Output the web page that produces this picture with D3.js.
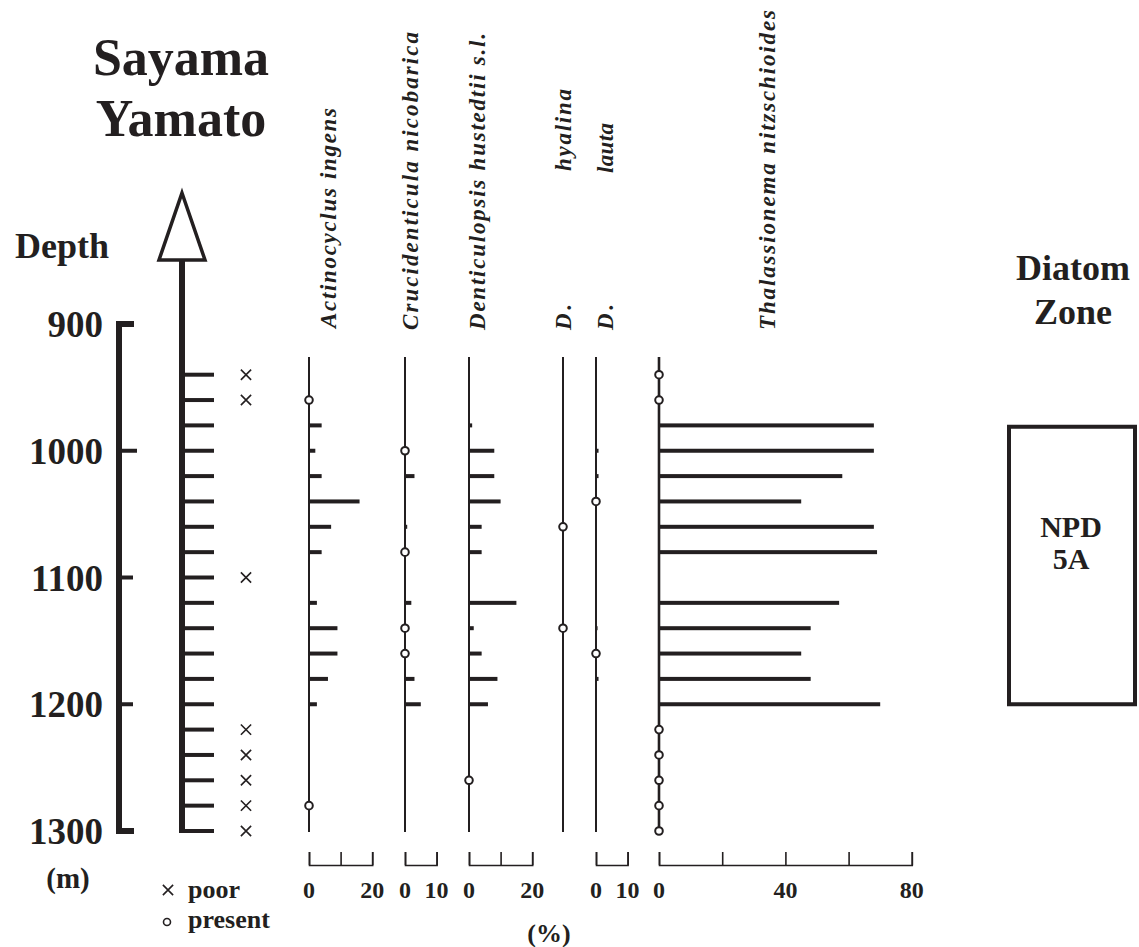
<!DOCTYPE html>
<html>
<head>
<meta charset="utf-8">
<script src="https://cdn.jsdelivr.net/npm/d3@7"></script>
<style>
  html, body { margin: 0; padding: 0; background: #fff; }
  svg { display: block; }
  text { font-family: "Liberation Serif", "Times New Roman", serif; fill: #231f20; }
</style>
</head>
<body>
<svg id="chart" width="1139" height="947"></svg>
<script>
// ---------------- DATA ----------------
const depthTicks = [900, 1000, 1100, 1200, 1300];
const depths = [940, 960, 980, 1000, 1020, 1040, 1060, 1080, 1100, 1120, 1140, 1160, 1180, 1200, 1220, 1240, 1260, 1280, 1300];
const poorSamples = [940, 960, 1100, 1220, 1240, 1260, 1280, 1300];

// percentages per depth (0 = no bar)
const actinocyclus   = [0, 0, 4, 2, 4, 16, 7, 4, 0, 2.5, 9, 9, 6, 2.5, 0, 0, 0, 0, 0];
const crucidenticula = [0, 0, 0, 0, 3, 0, 0.7, 0, 0, 2, 0, 0, 3, 5, 0, 0, 0, 0, 0];
const denticulopsis  = [0, 0, 1, 8, 8, 10, 4, 4, 0, 15, 1.5, 4, 9, 6, 0, 0, 0, 0, 0];
const hyalina        = [0, 0, 0, 0, 0, 0, 0, 0, 0, 0, 0, 0, 0, 0, 0, 0, 0, 0, 0];
const lauta          = [0, 0, 0, 0.8, 0.8, 0, 0, 0, 0, 0, 0.5, 0, 0.8, 0, 0, 0, 0, 0, 0];
const thalassionema  = [0, 0, 68, 68, 58, 45, 68, 69, 0, 57, 48, 45, 48, 70, 0, 0, 0, 0, 0];

// depths where species is only "present"
const actinocyclusPresent   = [960, 1280];
const crucidenticulaPresent = [1000, 1080, 1140, 1160];
const denticulopsisPresent  = [1260];
const hyalinaPresent        = [1060, 1140];
const lautaPresent          = [1040, 1160];
const thalassionemaPresent  = [940, 960, 1220, 1240, 1260, 1280, 1300];

// axis ticks and labels
const actinocyclusTicks = [0, 10, 20],  actinocyclusLabels = [0, 20];
const crucidenticulaTicks = [0, 10],    crucidenticulaLabels = [0, 10];
const denticulopsisTicks = [0, 10, 20], denticulopsisLabels = [0, 20];
const lautaTicks = [0, 10],             lautaLabels = [0, 10];
const thalassionemaTicks = [0, 20, 40, 60, 80], thalassionemaLabels = [0, 40, 80];

// ---------------- LAYOUT ----------------
const INK = "#231f20";
const PX_PER_PCT = 3.16;
const svg = d3.select("#chart");

const y = d3.scaleLinear().domain([900, 1300]).range([324, 831]);

const panels = [
  { values: actinocyclus,   present: actinocyclusPresent,   x0: 309, max: 20, ticks: actinocyclusTicks,   labels: actinocyclusLabels,
    titles: [{ t: "Actinocyclus ingens", bx: 336, start: 328, len: 220 }] },
  { values: crucidenticula, present: crucidenticulaPresent, x0: 405, max: 10, ticks: crucidenticulaTicks, labels: crucidenticulaLabels,
    titles: [{ t: "Crucidenticula nicobarica", bx: 418, start: 330, len: 298 }] },
  { values: denticulopsis,  present: denticulopsisPresent,  x0: 469, max: 20, ticks: denticulopsisTicks,  labels: denticulopsisLabels,
    titles: [{ t: "Denticulopsis hustedtii s.l.", bx: 485, start: 330, len: 297 }] },
  { values: hyalina,        present: hyalinaPresent,        x0: 563, max: 10, ticks: null, labels: null,
    titles: [{ t: "D.", bx: 571, start: 330, len: 26 }, { t: "hyalina", bx: 571, start: 171, len: 82 }] },
  { values: lauta,          present: lautaPresent,          x0: 596, max: 10, ticks: lautaTicks,          labels: lautaLabels,
    titles: [{ t: "D.", bx: 613, start: 330, len: 26 }, { t: "lauta", bx: 613, start: 173, len: 50 }] },
  { values: thalassionema,  present: thalassionemaPresent,  x0: 659, max: 80, ticks: thalassionemaTicks, labels: thalassionemaLabels,
    titles: [{ t: "Thalassionema nitzschioides", bx: 775, start: 330, len: 320 }] }
];

// ---------------- TITLES ----------------
svg.append("text").attr("x", 181).attr("y", 75).attr("text-anchor", "middle")
  .attr("font-size", 52).attr("font-weight", "bold").text("Sayama");
svg.append("text").attr("x", 181).attr("y", 136).attr("text-anchor", "middle")
  .attr("font-size", 52).attr("font-weight", "bold").text("Yamato");
svg.append("text").attr("x", 62).attr("y", 258).attr("text-anchor", "middle")
  .attr("font-size", 36).attr("font-weight", "bold").text("Depth");

// ---------------- DEPTH BRACKET ----------------
svg.append("path")
  .attr("d", `M134,${y(900)} H119 V${y(1300)} H134`)
  .attr("fill", "none").attr("stroke", INK).attr("stroke-width", 6);
svg.selectAll(".dtick").data(depthTicks.filter(d => d > 900 && d < 1300)).enter().append("line")
  .attr("x1", 119).attr("x2", (d, i) => i === 0 ? 137 : 133)
  .attr("y1", d => y(d)).attr("y2", d => y(d))
  .attr("stroke", INK).attr("stroke-width", 4);
svg.selectAll(".dlabel").data(depthTicks).enter().append("text")
  .attr("x", 103).attr("y", d => y(d) + 13).attr("text-anchor", "end")
  .attr("font-size", 37).attr("font-weight", "bold").text(d => d);
svg.append("text").attr("x", 68).attr("y", 888).attr("text-anchor", "middle")
  .attr("font-size", 29).attr("font-weight", "bold").text("(m)");

// ---------------- ARROW ----------------
const ax = 182;
svg.append("line").attr("x1", ax).attr("x2", ax).attr("y1", 260).attr("y2", y(1300) + 2)
  .attr("stroke", INK).attr("stroke-width", 6);
svg.append("path").attr("d", `M${ax},193 L${ax + 23},260 L${ax - 23},260 Z`)
  .attr("fill", "#fff").attr("stroke", INK).attr("stroke-width", 3.5).attr("stroke-linejoin", "miter");
svg.selectAll(".stick").data(depths).enter().append("line")
  .attr("x1", ax).attr("x2", 214).attr("y1", d => y(d)).attr("y2", d => y(d))
  .attr("stroke", INK).attr("stroke-width", 4);

// poor crosses
const crossSym = d3.symbol().type(d3.symbolTimes).size(70);
svg.selectAll(".poor").data(poorSamples).enter().append("path")
  .attr("d", crossSym).attr("transform", d => `translate(246,${y(d)})`)
  .attr("fill", "none").attr("stroke", INK).attr("stroke-width", 1.6);

// legend
svg.append("path").attr("d", crossSym).attr("transform", "translate(168,890)")
  .attr("fill", "none").attr("stroke", INK).attr("stroke-width", 1.6);
svg.append("text").attr("x", 188).attr("y", 898).attr("font-size", 26).attr("font-weight", "bold").text("poor");
svg.append("circle").attr("cx", 167).attr("cy", 922).attr("r", 3.5)
  .attr("fill", "#fff").attr("stroke", INK).attr("stroke-width", 1.6);
svg.append("text").attr("x", 188).attr("y", 928).attr("font-size", 26).attr("font-weight", "bold").text("present");

// ---------------- PANELS ----------------
panels.forEach(p => {
  const x = d3.scaleLinear().domain([0, p.max]).range([p.x0, p.x0 + p.max * PX_PER_PCT]);
  const g = svg.append("g");

  // baseline
  g.append("line").attr("x1", x(0)).attr("x2", x(0)).attr("y1", 357).attr("y2", y(1300) + 1)
    .attr("stroke", INK).attr("stroke-width", p.max === 80 ? 2.6 : 2);

  // bars
  const rows = depths.map((d, i) => ({ d, v: p.values[i] })).filter(r => r.v > 0);
  g.selectAll(".bar").data(rows).enter().append("rect")
    .attr("x", x(0)).attr("y", r => y(r.d) - 2)
    .attr("width", r => x(r.v) - x(0)).attr("height", 4)
    .attr("fill", INK);

  // present circles
  g.selectAll(".pres").data(p.present).enter().append("circle")
    .attr("cx", x(0)).attr("cy", d => y(d)).attr("r", 3.8)
    .attr("fill", "#fff").attr("stroke", INK).attr("stroke-width", 2);

  // bottom axis
  if (p.ticks) {
    const axis = d3.axisTop(x).tickValues(p.ticks).tickSize(13).tickSizeOuter(13).tickFormat("");
    const ag = g.append("g").attr("transform", "translate(0,865)").call(axis);
    ag.selectAll("path, line").attr("stroke", INK).attr("stroke-width", 1.6);
    g.selectAll(".alab").data(p.labels).enter().append("text")
      .attr("x", d => x(d)).attr("y", 898).attr("text-anchor", "middle")
      .attr("font-size", 24).attr("font-weight", "bold").text(d => d);
  }

  // titles (rotated)
  p.titles.forEach(tt => {
    g.append("text")
      .attr("transform", `translate(${tt.bx},${tt.start}) rotate(-90)`)
      .attr("font-size", 23).attr("font-weight", "bold").attr("font-style", "italic")
      .attr("textLength", tt.len).attr("lengthAdjust", "spacing")
      .text(tt.t);
  });
});

svg.append("text").attr("x", 549).attr("y", 942).attr("text-anchor", "middle")
  .attr("font-size", 26).attr("font-weight", "bold").text("(%)");

// ---------------- DIATOM ZONE ----------------
svg.append("text").attr("x", 1073).attr("y", 280).attr("text-anchor", "middle")
  .attr("font-size", 36).attr("font-weight", "bold").text("Diatom");
svg.append("text").attr("x", 1073).attr("y", 324).attr("text-anchor", "middle")
  .attr("font-size", 36).attr("font-weight", "bold").text("Zone");
svg.append("rect").attr("x", 1009).attr("y", y(1000) - 24).attr("width", 126).attr("height", y(1200) - y(1000) + 24)
  .attr("fill", "none").attr("stroke", INK).attr("stroke-width", 4);
svg.append("text").attr("x", 1071).attr("y", 537).attr("text-anchor", "middle")
  .attr("font-size", 30).attr("font-weight", "bold").text("NPD");
svg.append("text").attr("x", 1071).attr("y", 569).attr("text-anchor", "middle")
  .attr("font-size", 30).attr("font-weight", "bold").text("5A");
</script>
</body>
</html>
